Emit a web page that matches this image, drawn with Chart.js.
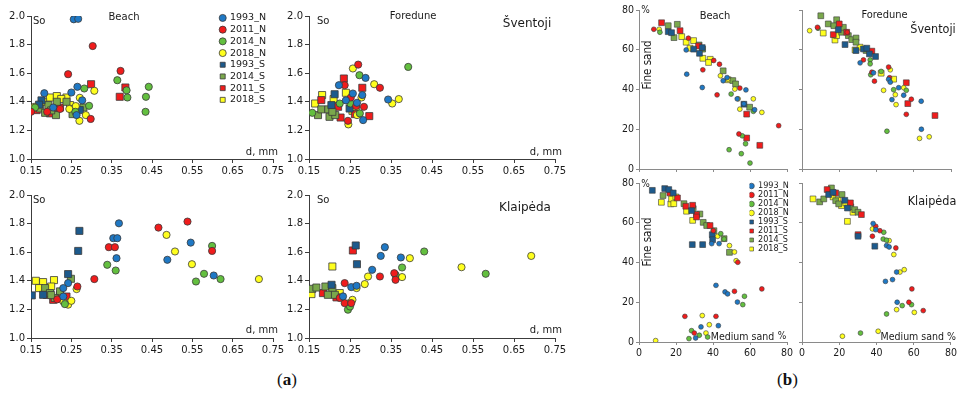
<!DOCTYPE html>
<html><head><meta charset="utf-8">
<script src="https://cdn.jsdelivr.net/npm/chart.js@4.4.1/dist/chart.umd.min.js"></script>
<style>
html,body{margin:0;padding:0;width:960px;height:393px;overflow:hidden;background:#fff;}
canvas{position:absolute;}
.lbl{position:absolute;font-family:'Liberation Serif','DejaVu Serif',serif;font-size:17px;line-height:17px;color:#111;}
</style></head><body>
<div class="lbl" style="left:277px;top:371px">(<b>a</b>)</div>
<div class="lbl" style="left:777px;top:371px">(<b>b</b>)</div>
<script>
// ---------- tick labels / categories ----------
const seriesA = ['1993_N','2011_N','2014_N','2018_N','1993_S','2014_S','2011_S','2018_S'];
const seriesB = ['1993_N','2011_N','2014_N','2018_N','1993_S','2011_S','2014_S','2018_S'];
const xTicksA = [0.15,0.25,0.35,0.45,0.55,0.65,0.75];
const yTicksA = [1.0,1.2,1.4,1.6,1.8,2.0];
const ticksB = [0,20,40,60,80];

// ---------- (a) Šventoji Beach: d (mm) vs So ----------
const sb_1993N = [[0.256,1.977],[0.267,1.98],[0.183,1.46],[0.25,1.465],[0.265,1.505],[0.277,1.41],[0.263,1.307],[0.205,1.36]];
const sb_2011N = [[0.242,1.593],[0.303,1.79],[0.372,1.616],[0.298,1.28],[0.15,1.33],[0.222,1.35],[0.19,1.33]];
const sb_2014N = [[0.364,1.551],[0.387,1.48],[0.389,1.43],[0.435,1.435],[0.442,1.505],[0.434,1.33],[0.282,1.493],[0.294,1.372],[0.16,1.36],[0.26,1.33]];
const sb_2018N = [[0.307,1.477],[0.271,1.428],[0.286,1.307],[0.27,1.267],[0.261,1.37],[0.158,1.365],[0.245,1.35]];
const sb_1993S = [[0.176,1.41],[0.271,1.342],[0.17,1.38]];
const sb_2014S = [[0.172,1.353],[0.185,1.323],[0.193,1.377],[0.212,1.307],[0.214,1.4],[0.238,1.4],[0.253,1.35],[0.253,1.314],[0.28,1.36],[0.2,1.34]];
const sb_2011S = [[0.299,1.523],[0.384,1.5],[0.37,1.435],[0.164,1.342],[0.207,1.347],[0.222,1.36],[0.197,1.319]];
const sb_2018S = [[0.197,1.43],[0.214,1.44],[0.238,1.43],[0.18,1.4],[0.247,1.377],[0.225,1.42]];

// ---------- (a) Šventoji Foredune ----------
const sf_1993N = [[0.223,1.516],[0.288,1.567],[0.257,1.458],[0.28,1.447],[0.267,1.393],[0.343,1.416],[0.282,1.272],[0.24,1.41]];
const sf_2011N = [[0.27,1.66],[0.237,1.516],[0.323,1.498],[0.252,1.43],[0.284,1.365],[0.245,1.267],[0.265,1.37]];
const sf_2014N = [[0.392,1.644],[0.273,1.586],[0.251,1.388],[0.225,1.388],[0.158,1.323],[0.274,1.319]];
const sf_2018N = [[0.257,1.633],[0.309,1.523],[0.369,1.419],[0.353,1.388],[0.278,1.43],[0.246,1.242],[0.267,1.307]];
const sf_1993S = [[0.2125,1.453],[0.249,1.353],[0.2046,1.377]];
const sf_2014S = [[0.172,1.307],[0.18,1.347],[0.197,1.347],[0.2,1.295],[0.214,1.307],[0.207,1.33]];
const sf_2011S = [[0.235,1.563],[0.28,1.498],[0.18,1.412],[0.221,1.365],[0.227,1.29],[0.262,1.314],[0.297,1.3]];
const sf_2018S = [[0.165,1.388],[0.182,1.447],[0.21,1.419],[0.24,1.463],[0.256,1.337],[0.264,1.353]];

// ---------- (a) Klaipėda Beach ----------
const kb_1993N = [[0.368,1.802],[0.354,1.698],[0.364,1.698],[0.362,1.558],[0.546,1.667],[0.488,1.547],[0.603,1.437],[0.242,1.384],[0.23,1.349],[0.23,1.29]];
const kb_2011N = [[0.466,1.772],[0.538,1.814],[0.599,1.609],[0.343,1.635],[0.358,1.635],[0.307,1.412],[0.265,1.36],[0.215,1.27]];
const kb_2014N = [[0.599,1.644],[0.339,1.512],[0.36,1.472],[0.579,1.449],[0.559,1.395],[0.62,1.412],[0.234,1.237]];
const kb_2018N = [[0.486,1.721],[0.507,1.605],[0.549,1.516],[0.715,1.412],[0.263,1.342],[0.242,1.233],[0.25,1.26],[0.23,1.256]];
const kb_1993S = [[0.27,1.749],[0.267,1.609],[0.242,1.447],[0.152,1.298],[0.18,1.302]];
const kb_2014S = [[0.185,1.349],[0.197,1.314],[0.249,1.414],[0.222,1.326],[0.209,1.28],[0.2,1.3]];
const kb_2011S = [[0.205,1.267],[0.222,1.302],[0.238,1.29],[0.189,1.302]];
const kb_2018S = [[0.162,1.4],[0.18,1.391],[0.207,1.405],[0.2,1.36],[0.17,1.349]];

// ---------- (a) Klaipėda Foredune ----------
const kf_1993N = [[0.335,1.635],[0.325,1.574],[0.374,1.563],[0.304,1.477],[0.253,1.356],[0.266,1.365],[0.233,1.291]];
const kf_2011N = [[0.237,1.384],[0.323,1.43],[0.358,1.453],[0.361,1.407],[0.237,1.244],[0.253,1.244],[0.225,1.28]];
const kf_2014N = [[0.431,1.605],[0.581,1.449],[0.377,1.493],[0.361,1.442],[0.245,1.198],[0.25,1.22]];
const kf_2018N = [[0.692,1.574],[0.522,1.495],[0.396,1.558],[0.377,1.426],[0.294,1.43],[0.286,1.377],[0.266,1.349],[0.248,1.244],[0.256,1.267]];
const kf_1993S = [[0.264,1.647],[0.267,1.516],[0.205,1.372]];
const kf_2014S = [[0.158,1.344],[0.168,1.353],[0.19,1.36],[0.207,1.349],[0.213,1.302],[0.196,1.302]];
const kf_2011S = [[0.257,1.612],[0.184,1.314],[0.217,1.284]];
const kf_2018S = [[0.207,1.5],[0.156,1.307],[0.225,1.314]];

// ---------- (b) Šventoji Beach: Medium sand % vs Fine sand % ----------
const sbg_1993N = [[25.5,59.9],[25.8,47.7],[34.2,41],[47.6,46],[45.5,44.4],[57.8,39.8],[53.1,35.3],[56.7,32.8],[62.5,29.8]];
const sbg_2011N = [[8,70.3],[26.7,65.8],[34.5,49.9],[40.4,54.6],[43.5,52.7],[42.2,37.3],[54.5,40.7],[54,17.6],[75.5,21.8]];
const sbg_2014N = [[11.3,68.8],[49.8,37.7],[61.8,29],[48.7,9.7],[55.3,7.7],[60,3],[57.6,12.7],[55.8,16.7]];
const sbg_2018N = [[10.9,70.3],[44,46.9],[51.8,40.2],[53.6,35.3],[54.5,30.1],[61.8,35.3],[66.4,28.5],[48,45.2]];
const sbg_1993S = [[15.8,69.1],[17.6,68.6],[29.5,60.3],[32.7,58.2],[34.2,61.1],[56.7,32.6]];
const sbg_2011S = [[12.2,73.6],[22.2,69.6],[32.2,61.9],[58.2,27.6],[58.2,15.6],[65.3,11.9]];
const sbg_2014S = [[15.8,72.1],[20.7,72.8],[18.9,66.1],[32.5,62.4],[34.4,60.3],[45.5,49.4],[50.7,44.5],[52.2,42.8],[59.8,31.1]];
const sbg_2018S = [[23.1,66.6],[25.5,63.8],[27.6,60.8],[29.5,64.6],[34.5,55.7],[38.5,55.2],[37.6,53.6],[48.2,44.9]];

// ---------- (b) Šventoji Foredune ----------
const sfg_1993N = [[31.2,53.4],[38.4,48.4],[46.5,45.1],[47.4,43.7],[51.9,40.9],[48.3,34.9],[54.6,37.1],[64,34.1],[64.1,20]];
const sfg_2011N = [[8.3,71.3],[24.3,68.8],[33,54.9],[37.5,48.7],[38.9,44.2],[46.5,51.3],[47,45.9],[58.7,35.1],[56,27.5]];
const sfg_2014N = [[8.6,70.8],[36.6,54.9],[36.6,52.9],[36.9,47.4],[42.5,49.1],[49.2,39.9],[56,39.6],[45.6,19]];
const sfg_2018N = [[4.1,69.6],[47.4,49.9],[43.8,39.6],[50.1,37.4],[50.5,32.4],[54.6,40.9],[63.1,15.4],[68.3,16.2]];
const sfg_1993S = [[19.5,70.1],[23.1,62.6],[29,59.6],[33,60.4],[36.2,57.9],[39.5,56.6],[34.8,60.8]];
const sfg_2011S = [[16.8,67.6],[20,73],[24,68.8],[37.5,59.3],[56,43.4],[56.8,32.9],[71.4,26.9]];
const sfg_2014S = [[10.1,77.1],[14.1,73],[17.1,72.1],[18.6,75.1],[21.3,68.8],[22.2,71.3],[24.9,67.1],[26.7,65.1],[29,65.9],[29,63.8],[34.4,59.6]];
const sfg_2018S = [[11.4,68.4],[17.7,64.9],[18.6,67.1],[28.5,59.9],[31.2,61.3],[42.5,48.2],[49.2,45.2]];

// ---------- (b) Klaipėda Beach ----------
const kbg_1993N = [[39.3,49.5],[43.3,49.5],[41.6,28.5],[46.5,25.2],[47.9,24.2],[53.2,20.1],[33.5,7.6],[42.9,8.2],[30.6,2]];
const kbg_2011N = [[40.2,56],[53.4,40.1],[24.8,12.9],[41.6,12.9],[29.9,4.5],[51.6,25.5],[66.4,26.7]];
const kbg_2014N = [[44.2,54.5],[46,51.8],[57,23],[56.1,18.8],[28.4,5.7],[32.6,3.4],[37.1,2.5],[27,1.7]];
const kbg_2018N = [[42.5,53.2],[48.9,48.5],[51.6,45.3],[52.5,40.9],[34.2,13.3],[38,8.7],[36.2,4.5],[9,0.7]];
const kbg_1993S = [[7.2,76.3],[13.9,77.2],[16.1,76.7],[18.5,75],[28.4,66.1],[28.8,49],[34.4,49],[39.6,54],[39.8,51.5]];
const kbg_2011S = [[16.7,75],[20.8,72.5],[25.3,68.3],[29,68.8],[31.1,64.1],[31.1,62.9],[38.4,58.6]];
const kbg_2014S = [[13,73.7],[24.3,69.6],[29.3,67.1],[32.9,64.4],[34.7,60.2],[36.6,58.6],[40.5,56],[46,52],[48.9,45.1]];
const kbg_2018S = [[12.1,70.3],[17.2,69.5],[17.6,72],[18.8,69.6],[19.9,73],[25.7,65.8],[29,61.2]];

// ---------- (b) Klaipėda Foredune ----------
const kfg_1993N = [[38.2,59.6],[39.6,56.5],[45.4,48.5],[46.8,47.8],[50.8,35.2],[48.6,31.4],[44.8,30.5],[51.1,20]];
const kfg_2011N = [[39.6,58.2],[41.8,56],[37.8,53.2],[50.4,47.3],[59,26.7],[57.4,20],[65.1,15.8]];
const kfg_2014N = [[43.9,55.2],[43.6,51.8],[45.4,51.2],[53.8,18.3],[58.8,18.8],[45.4,14.1],[31.4,4.5]];
const kfg_2018N = [[37.8,56.9],[46.8,51],[49.3,44],[52.6,35.2],[54.9,36.4],[50.8,16.3],[60.3,14.9],[40.9,5.4],[21.7,2.9]];
const kfg_1993S = [[14.3,74.2],[16.7,75.3],[23,71.3],[24.4,67.4],[30.1,53.2],[39.1,48.2]];
const kfg_2011S = [[13.5,76.7],[18.1,75],[26,70],[31.9,64.1],[30.1,54]];
const kfg_2014S = [[9.5,70.5],[11.7,72],[15.8,77.5],[18.1,71.1],[19.7,69.5],[21.5,74.2],[26.2,68],[28.3,66.6],[30.1,65.3]];
const kfg_2018S = [[5.9,72],[16.7,73],[19.4,71.6],[21.2,68.6],[23.5,70],[27.4,65.3],[24.4,60.7]];

// ---------- styles ----------
const STY = {
  '1993_N': {ps:'circle', c:'#1f78c4'},
  '2011_N': {ps:'circle', c:'#f01c1c'},
  '2014_N': {ps:'circle', c:'#63bf3f'},
  '2018_N': {ps:'circle', c:'#ffff1e'},
  '1993_S': {ps:'rect',   c:'#1d5a8c'},
  '2014_S': {ps:'rect',   c:'#7aa84c'},
  '2011_S': {ps:'rect',   c:'#f01c1c'},
  '2018_S': {ps:'rect',   c:'#ffff1e'}
};
const FA = "'DejaVu Sans', Verdana, sans-serif";
const FB = "'Liberation Sans Narrow','DejaVu Sans Condensed','Liberation Sans', sans-serif";
const TXT = '#1a1a1a';

function makeDatasets(names, arrs, big) {
  return names.map((n, i) => {
    const s = STY[n];
    const r = s.ps === 'circle' ? (big ? 3.6 : 2.4) : (big ? 5.0 : 4.1);
    return {
      label: n, data: arrs[i], showLine: false,
      pointStyle: s.ps, pointRadius: r, pointHoverRadius: r,
      backgroundColor: s.c, borderColor: '#3a3a3a', borderWidth: big ? 0.8 : 0.6,
      pointBackgroundColor: s.c, pointBorderColor: '#3a3a3a', pointBorderWidth: big ? 0.8 : 0.6
    };
  });
}

function notesPlugin(notes, offX, offY) {
  return {
    id: 'notes',
    afterDraw(chart) {
      const ctx = chart.ctx;
      ctx.save();
      ctx.fillStyle = TXT;
      ctx.textBaseline = 'middle';
      for (const n of notes) {
        ctx.font = n.f;
        if (n.rot) {
          ctx.save();
          ctx.translate(n.x - offX, n.y - offY);
          ctx.rotate(-Math.PI / 2);
          ctx.textAlign = 'center';
          ctx.fillText(n.t, 0, 0);
          ctx.restore();
        } else {
          ctx.textAlign = n.a || 'left';
          ctx.fillText(n.t, n.x - offX, n.y - offY);
        }
      }
      ctx.restore();
    }
  };
}

function legendPosPlugin(px, py, offX, offY) {
  return {
    id: 'legendPos',
    afterLayout(chart) {
      const lg = chart.legend;
      if (!lg) return;
      lg.left = px - offX; lg.right = lg.left + lg.width;
      lg.top = py - offY; lg.bottom = lg.top + 140;
    }
  };
}

function axisCommon(kind, show, fit, tickVals, fmt) {
  const isA = kind === 'A';
  const col = isA ? '#3c3c3c' : '#8a8a8a';
  return {
    type: 'linear',
    afterBuildTicks: s => { s.ticks = tickVals.map(v => ({value: v})); },
    afterFit: fit,
    ticks: {
      display: show, autoSkip: false, maxRotation: 0, color: TXT,
      padding: 2,
      font: isA ? {family: FA, size: 10} : {family: FB, size: 10.5},
      callback: fmt
    },
    grid: {display: true, drawOnChartArea: false, drawTicks: true, tickLength: isA ? 4 : 3, color: col, lineWidth: 1},
    border: {display: true, color: col, width: 1}
  };
}

function makePanel(p) {
  const a = p.area, m = p.m;
  const w = a.r - a.l + m.l + m.r, h = a.b - a.t + m.t + m.b;
  const offX = a.l - m.l, offY = a.t - m.t;
  const c = document.createElement('canvas');
  c.width = w; c.height = h;
  c.style.left = offX + 'px'; c.style.top = offY + 'px';
  c.style.width = w + 'px'; c.style.height = h + 'px';
  document.body.appendChild(c);
  const isA = p.kind === 'A';
  const xs = isA
    ? axisCommon('A', p.showX, s => { s.height = m.b; }, xTicksA, v => Number(v).toFixed(2))
    : axisCommon('B', p.showX, s => { s.height = m.b; }, ticksB, v => String(v));
  const ys = isA
    ? axisCommon('A', p.showY, s => { s.width = m.l; }, yTicksA, v => Number(v).toFixed(1))
    : axisCommon('B', p.showY, s => { s.width = m.l; }, ticksB, v => String(v));
  if (isA) { xs.min = 0.15; xs.max = 0.75; ys.min = 1.0; ys.max = 2.0; }
  else { xs.min = 0; xs.max = 80; ys.min = 0; ys.max = 80; }
  xs.position = 'bottom'; ys.position = 'left';

  const plugins = [notesPlugin(p.notes, offX, offY)];
  let legendOpt = {display: false};
  if (p.legend) {
    plugins.push(legendPosPlugin(p.legend.x, p.legend.y, offX, offY));
    legendOpt = {
      display: true, position: 'chartArea', align: 'start',
      labels: {
        usePointStyle: true, boxWidth: p.legend.box, boxHeight: p.legend.box,
        padding: p.legend.pad, color: TXT,
        font: {family: p.legend.family, size: p.legend.size}
      }
    };
  }
  new Chart(c, {
    type: 'scatter',
    data: {datasets: makeDatasets(p.names, p.arrs, isA)},
    options: {
      responsive: false, animation: false, devicePixelRatio: 1, events: [],
      layout: {padding: {left: 0, top: m.t, right: m.r, bottom: 0}},
      scales: {x: xs, y: ys},
      plugins: {legend: legendOpt, tooltip: {enabled: false}, title: {display: false}}
    },
    plugins
  });
}

const fA = (s) => s + "px " + FA;
const fB = (s) => s + "px " + FB;
const mA = {l: 36, t: 12, r: 16, b: 24};

const panels = [
  {kind:'A', area:{l:31,t:16,r:273,b:159}, m:mA, showX:true, showY:true, names:seriesA,
   arrs:[sb_1993N, sb_2011N, sb_2014N, sb_2018N, sb_1993S, sb_2014S, sb_2011S, sb_2018S],
   legend:{x:218, y:11, box:5, pad:2.2, size:9.5, family:FA},
   notes:[{t:'So',x:33,y:21,f:fA(10)},{t:'Beach',x:124,y:17,a:'center',f:fA(10)},{t:'d, mm',x:278,y:152,a:'right',f:fA(10)}]},
  {kind:'A', area:{l:309,t:16,r:555,b:159}, m:mA, showX:true, showY:true, names:seriesA,
   arrs:[sf_1993N, sf_2011N, sf_2014N, sf_2018N, sf_1993S, sf_2014S, sf_2011S, sf_2018S],
   notes:[{t:'So',x:317,y:21,f:fA(10)},{t:'Foredune',x:413,y:16,a:'center',f:fA(10)},{t:'Šventoji',x:527,y:24,a:'center',f:fA(12)},{t:'d, mm',x:562,y:152,a:'right',f:fA(10)}]},
  {kind:'A', area:{l:31,t:195,r:273,b:338}, m:mA, showX:true, showY:true, names:seriesA,
   arrs:[kb_1993N, kb_2011N, kb_2014N, kb_2018N, kb_1993S, kb_2014S, kb_2011S, kb_2018S],
   notes:[{t:'So',x:33,y:200,f:fA(10)},{t:'d, mm',x:278,y:330,a:'right',f:fA(10)}]},
  {kind:'A', area:{l:309,t:195,r:555,b:338}, m:mA, showX:true, showY:true, names:seriesA,
   arrs:[kf_1993N, kf_2011N, kf_2014N, kf_2018N, kf_1993S, kf_2014S, kf_2011S, kf_2018S],
   notes:[{t:'So',x:317,y:200,f:fA(10)},{t:'Klaipėda',x:525,y:208,a:'center',f:fA(12)},{t:'d, mm',x:562,y:330,a:'right',f:fA(10)}]},
  {kind:'B', area:{l:639,t:10,r:787,b:169}, m:{l:36,t:10,r:14,b:14}, showX:false, showY:true, names:seriesB,
   arrs:[sbg_1993N, sbg_2011N, sbg_2014N, sbg_2018N, sbg_1993S, sbg_2011S, sbg_2014S, sbg_2018S],
   notes:[{t:'%',x:645.5,y:10,a:'center',f:fB(10)},{t:'Fine sand',x:648,y:65,rot:true,f:fB(11.5)},{t:'Beach',x:715,y:16,a:'center',f:fB(11)}]},
  {kind:'B', area:{l:802,t:10,r:951,b:169}, m:{l:36,t:10,r:8,b:14}, showX:false, showY:false, names:seriesB,
   arrs:[sfg_1993N, sfg_2011N, sfg_2014N, sfg_2018N, sfg_1993S, sfg_2011S, sfg_2014S, sfg_2018S],
   notes:[{t:'Foredune',x:884.5,y:15,a:'center',f:fB(11)},{t:'Šventoji',x:933,y:30,a:'center',f:fB(12.5)}]},
  {kind:'B', area:{l:639,t:183,r:787,b:342}, m:{l:36,t:10,r:14,b:22}, showX:true, showY:true, names:seriesB,
   arrs:[kbg_1993N, kbg_2011N, kbg_2014N, kbg_2018N, kbg_1993S, kbg_2011S, kbg_2014S, kbg_2018S],
   legend:{x:749.5, y:181.5, box:4, pad:0, size:9, family:FB},
   notes:[{t:'%',x:645.5,y:184,a:'center',f:fB(10)},{t:'Fine sand',x:648,y:242,rot:true,f:fB(11.5)},{t:'Medium sand',x:742.5,y:337,a:'center',f:fB(10.5)},{t:'%',x:782,y:336,a:'center',f:fB(10)}]},
  {kind:'B', area:{l:802,t:183,r:951,b:342}, m:{l:36,t:10,r:8,b:22}, showX:true, showY:false, names:seriesB,
   arrs:[kfg_1993N, kfg_2011N, kfg_2014N, kfg_2018N, kfg_1993S, kfg_2011S, kfg_2014S, kfg_2018S],
   notes:[{t:'Klaipėda',x:932,y:202,a:'center',f:fB(12.5)},{t:'Medium sand %',x:956,y:337,a:'right',f:fB(10.5)}]}
];

panels.forEach(makePanel);
</script>
</body></html>
